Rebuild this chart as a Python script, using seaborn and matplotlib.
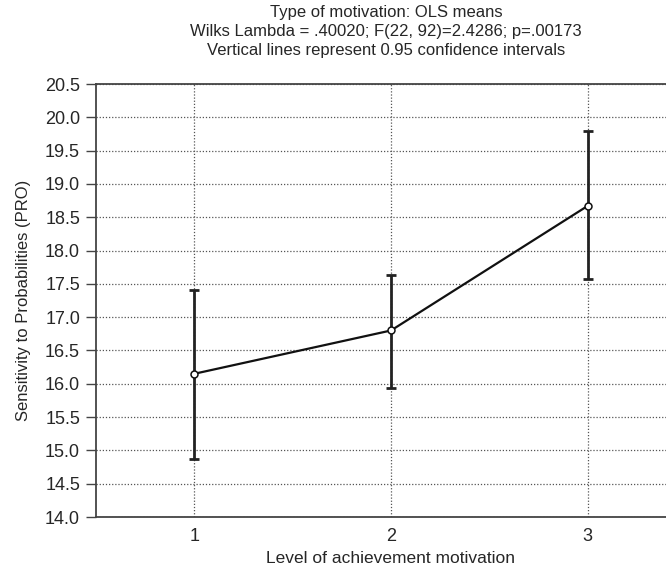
import matplotlib
matplotlib.use("Agg")
import matplotlib.pyplot as plt
import seaborn as sns
import pandas as pd

# data
levels = [1, 2, 3]
means = [16.15, 16.80, 18.67]
ci_low = [14.87, 15.94, 17.58]
ci_high = [17.41, 17.64, 19.80]
y_ticks = [14.0, 14.5, 15.0, 15.5, 16.0, 16.5, 17.0, 17.5, 18.0, 18.5, 19.0, 19.5, 20.0, 20.5]

title_lines = [
    "Type of motivation: OLS means",
    "Wilks Lambda = .40020; F(22, 92)=2.4286; p=.00173",
    "Vertical lines represent 0.95 confidence intervals",
]

df = pd.DataFrame({"level": levels, "mean": means, "low": ci_low, "high": ci_high})

sns.set_style("white")
plt.rcParams["font.family"] = ["Liberation Sans", "DejaVu Sans"]

fig = plt.figure(figsize=(6.66, 5.70), dpi=100)
# axes runs past the right edge like the source image (right border cropped)
ax = fig.add_axes([96 / 666, 1 - 517 / 570, (686 - 96) / 666, (517 - 84) / 570])

# confidence intervals
ax.errorbar(df["level"], df["mean"],
            yerr=[df["mean"] - df["low"], df["high"] - df["mean"]],
            fmt="none", ecolor="#222222", elinewidth=2.0, capsize=3.5, capthick=2.0, zorder=3)

# means
sns.lineplot(data=df, x="level", y="mean", ax=ax, color="#111111", linewidth=1.6,
             marker="o", markersize=5, markerfacecolor="white", markeredgecolor="#111111",
             markeredgewidth=1.1, zorder=4)

ax.set_xlim(0.5, 3.5)
ax.set_ylim(14.0, 20.5)
ax.set_xticks(levels)
ax.set_xticklabels([str(l) for l in levels])
ax.set_yticks(y_ticks)
ax.set_yticklabels([f"{t:.1f}" for t in y_ticks])

ax.grid(True, color="#555555", linestyle=(0, (1, 1.5)), linewidth=0.9)
ax.set_axisbelow(True)
for s in ax.spines.values():
    s.set_color("#444444")
    s.set_linewidth(1.3)
ax.spines["right"].set_visible(False)

ax.tick_params(axis="y", direction="out", length=7.5, width=1.0, color="#444444",
               labelsize=13, pad=4, left=True)
ax.tick_params(axis="x", length=0, labelsize=13, pad=8)

ax.set_xlabel("Level of achievement motivation", fontsize=12.5, labelpad=4)
ax.set_ylabel("Sensitivity to Probabilities (PRO)", fontsize=12, labelpad=10)

title_y = [13, 31.5, 50]
for line, ty in zip(title_lines, title_y):
    fig.text(386 / 666, 1 - ty / 570, line, ha="center", va="center", fontsize=12)

fig.savefig("out.png", dpi=100)
